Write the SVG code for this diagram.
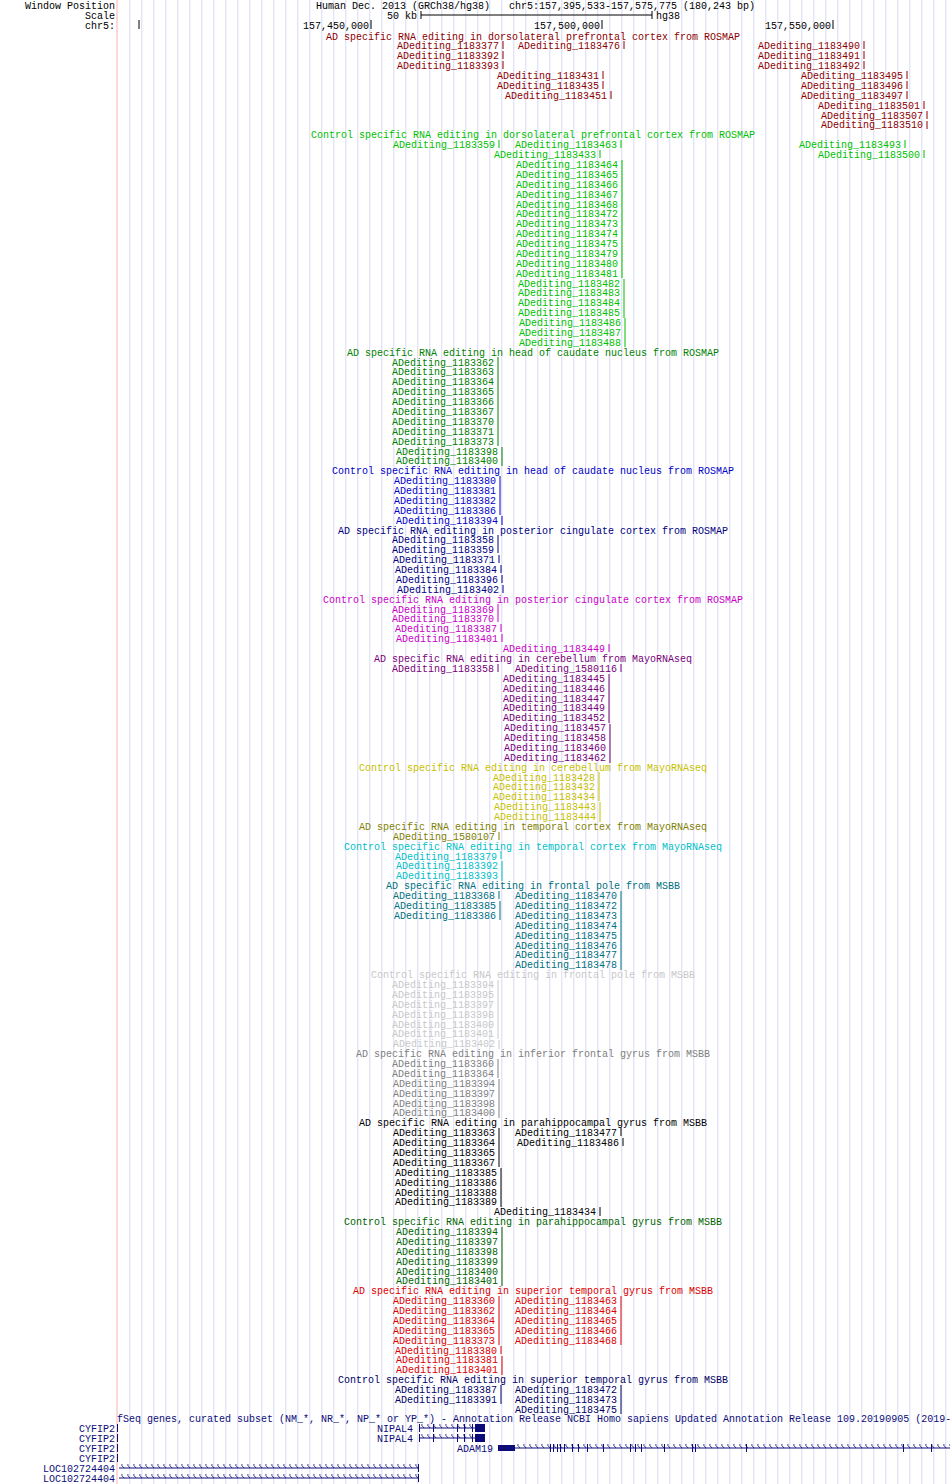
<svg xmlns="http://www.w3.org/2000/svg" width="950" height="1484" viewBox="0 0 950 1484">
<defs>
<style>
text{font-family:"Liberation Mono","DejaVu Sans Mono",monospace;font-size:10px}
.e{text-anchor:end}.m{text-anchor:middle}
.t1{fill:#8c0000}.t2{fill:#00c000}.t3{fill:#008000}.t4{fill:#0000c8}.t5{fill:#000080}.t6{fill:#c800c8}.t7{fill:#780078}.t8{fill:#c8c000}.t9{fill:#808000}.t10{fill:#00c0c8}.t11{fill:#007080}.t12{fill:#c8c8c8}.t13{fill:#808080}.t14{fill:#000}.t15{fill:#006400}.t16{fill:#dc0000}.t17{fill:#000064}.g{fill:#0c0c78}
</style>
<pattern id="grid" x="129.3" y="0" width="12" height="10" patternUnits="userSpaceOnUse"><rect x="0" y="0" width="1" height="10" fill="#d9d9f5"/></pattern>
<pattern id="chev" x="0" y="0" width="6" height="10" patternUnits="userSpaceOnUse"><path d="M4,2 L1.5,5 L4,8" fill="none" stroke="#0c0c78" stroke-width="0.8"/></pattern>
</defs>
<rect width="950" height="1484" fill="#fff"/>
<rect x="128" y="0" width="822" height="1484" fill="url(#grid)"/>
<line x1="117" y1="0" x2="117" y2="1484" stroke="#ffb0b0" stroke-width="1"/>
<g id="header">
<text class="e" x="115" y="9">Window Position</text>
<text x="316" y="9">Human Dec. 2013 (GRCh38/hg38)</text>
<text x="509" y="9">chr5:157,395,533-157,575,775 (180,243 bp)</text>
<text class="e" x="115" y="19">Scale</text>
<text class="e" x="417" y="19">50 kb</text>
<path d="M421,11V19M421,15H652M652,11V19" stroke="#000" fill="none"/>
<text x="656" y="19">hg38</text>
<text class="e" x="115" y="29">chr5:</text>
<path d="M139,20V29M371,20V29M602,20V29M833,20V29" stroke="#000"/>
<text class="e" x="369" y="29">157,450,000</text>
<text class="e" x="600" y="29">157,500,000</text>
<text class="e" x="831" y="29">157,550,000</text>
</g>
<g id="track-ad-dlpfc" class="t1">
<text class="m" x="533" y="39.5">AD specific RNA editing in dorsolateral prefrontal cortex from ROSMAP</text>
<text class="e" x="499" y="49.4">ADediting_1183377</text><text class="e" x="620" y="49.4">ADediting_1183476</text><text class="e" x="860" y="49.4">ADediting_1183490</text>
<text class="e" x="499" y="59.3">ADediting_1183392</text><text class="e" x="860" y="59.3">ADediting_1183491</text>
<text class="e" x="499" y="69.1">ADediting_1183393</text><text class="e" x="860" y="69.1">ADediting_1183492</text>
<text class="e" x="599" y="79">ADediting_1183431</text><text class="e" x="903" y="79">ADediting_1183495</text>
<text class="e" x="599" y="88.9">ADediting_1183435</text><text class="e" x="903" y="88.9">ADediting_1183496</text>
<text class="e" x="607" y="98.8">ADediting_1183451</text><text class="e" x="903" y="98.8">ADediting_1183497</text>
<text class="e" x="920" y="108.7">ADediting_1183501</text>
<text class="e" x="923" y="118.5">ADediting_1183507</text>
<text class="e" x="923" y="128.4">ADediting_1183510</text>
<path stroke="#8c0000" d="M503,41v8M624,41v8M864,41v8M503,51v8M864,51v8M503,61v8M864,61v8M603,71v8M907,71v8M603,81v8M907,81v8M611,91v8M907,91v8M924,101v8M927,111v8M927,121v8"/>
</g>
<g id="track-ctl-dlpfc" class="t2">
<text class="m" x="533" y="138.3">Control specific RNA editing in dorsolateral prefrontal cortex from ROSMAP</text>
<text class="e" x="495" y="148.2">ADediting_1183359</text><text class="e" x="617" y="148.2">ADediting_1183463</text><text class="e" x="901" y="148.2">ADediting_1183493</text>
<text class="e" x="596" y="158.1">ADediting_1183433</text><text class="e" x="920" y="158.1">ADediting_1183500</text>
<text class="e" x="618" y="167.9">ADediting_1183464</text>
<text class="e" x="618" y="177.8">ADediting_1183465</text>
<text class="e" x="618" y="187.7">ADediting_1183466</text>
<text class="e" x="618" y="197.6">ADediting_1183467</text>
<text class="e" x="618" y="207.5">ADediting_1183468</text>
<text class="e" x="618" y="217.3">ADediting_1183472</text>
<text class="e" x="618" y="227.2">ADediting_1183473</text>
<text class="e" x="618" y="237.1">ADediting_1183474</text>
<text class="e" x="618" y="247">ADediting_1183475</text>
<text class="e" x="618" y="256.9">ADediting_1183479</text>
<text class="e" x="618" y="266.7">ADediting_1183480</text>
<text class="e" x="618" y="276.6">ADediting_1183481</text>
<text class="e" x="620" y="286.5">ADediting_1183482</text>
<text class="e" x="620" y="296.4">ADediting_1183483</text>
<text class="e" x="620" y="306.3">ADediting_1183484</text>
<text class="e" x="620" y="316.1">ADediting_1183485</text>
<text class="e" x="621" y="326">ADediting_1183486</text>
<text class="e" x="621" y="335.9">ADediting_1183487</text>
<text class="e" x="621" y="345.8">ADediting_1183488</text>
<path stroke="#00c000" d="M499,140v8M621,140v8M905,140v8M600,150v8M924,150v8M622,160v118M624,279v39M625,318v29"/>
</g>
<g id="track-ad-caudate" class="t3">
<text class="m" x="533" y="355.7">AD specific RNA editing in head of caudate nucleus from ROSMAP</text>
<text class="e" x="494" y="365.5">ADediting_1183362</text>
<text class="e" x="494" y="375.4">ADediting_1183363</text>
<text class="e" x="494" y="385.3">ADediting_1183364</text>
<text class="e" x="494" y="395.2">ADediting_1183365</text>
<text class="e" x="494" y="405.1">ADediting_1183366</text>
<text class="e" x="494" y="414.9">ADediting_1183367</text>
<text class="e" x="494" y="424.8">ADediting_1183370</text>
<text class="e" x="494" y="434.7">ADediting_1183371</text>
<text class="e" x="494" y="444.6">ADediting_1183373</text>
<text class="e" x="498" y="454.5">ADediting_1183398</text>
<text class="e" x="498" y="464.3">ADediting_1183400</text>
<path stroke="#008000" d="M498,357v89M502,447v19"/>
</g>
<g id="track-ctl-caudate" class="t4">
<text class="m" x="533" y="474.2">Control specific RNA editing in head of caudate nucleus from ROSMAP</text>
<text class="e" x="496" y="484.1">ADediting_1183380</text>
<text class="e" x="496" y="494">ADediting_1183381</text>
<text class="e" x="496" y="503.9">ADediting_1183382</text>
<text class="e" x="496" y="513.7">ADediting_1183386</text>
<text class="e" x="498" y="523.6">ADediting_1183394</text>
<path stroke="#0000c8" d="M500,476v39M502,516v9"/>
</g>
<g id="track-ad-pcc" class="t5">
<text class="m" x="533" y="533.5">AD specific RNA editing in posterior cingulate cortex from ROSMAP</text>
<text class="e" x="494" y="543.4">ADediting_1183358</text>
<text class="e" x="494" y="553.3">ADediting_1183359</text>
<text class="e" x="495" y="563.1">ADediting_1183371</text>
<text class="e" x="497" y="573">ADediting_1183384</text>
<text class="e" x="498" y="582.9">ADediting_1183396</text>
<text class="e" x="499" y="592.8">ADediting_1183402</text>
<path stroke="#000080" d="M498,535v18M499,555v8M501,565v8M502,575v8M503,585v8"/>
</g>
<g id="track-ctl-pcc" class="t6">
<text class="m" x="533" y="602.7">Control specific RNA editing in posterior cingulate cortex from ROSMAP</text>
<text class="e" x="494" y="612.5">ADediting_1183369</text>
<text class="e" x="494" y="622.4">ADediting_1183370</text>
<text class="e" x="497" y="632.3">ADediting_1183387</text>
<text class="e" x="498" y="642.2">ADediting_1183401</text>
<text class="e" x="605" y="652.1">ADediting_1183449</text>
<path stroke="#c800c8" d="M498,604v18M501,624v8M502,634v8M609,644v8"/>
</g>
<g id="track-ad-cereb" class="t7">
<text class="m" x="533" y="661.9">AD specific RNA editing in cerebellum from MayoRNAseq</text>
<text class="e" x="494" y="671.8">ADediting_1183358</text><text class="e" x="617" y="671.8">ADediting_1580116</text>
<text class="e" x="605" y="681.7">ADediting_1183445</text>
<text class="e" x="605" y="691.6">ADediting_1183446</text>
<text class="e" x="605" y="701.5">ADediting_1183447</text>
<text class="e" x="605" y="711.3">ADediting_1183449</text>
<text class="e" x="605" y="721.2">ADediting_1183452</text>
<text class="e" x="606" y="731.1">ADediting_1183457</text>
<text class="e" x="606" y="741">ADediting_1183458</text>
<text class="e" x="606" y="750.9">ADediting_1183460</text>
<text class="e" x="606" y="760.7">ADediting_1183462</text>
<path stroke="#780078" d="M498,664v8M621,664v8M609,674v49M610,724v39"/>
</g>
<g id="track-ctl-cereb" class="t8">
<text class="m" x="533" y="770.6">Control specific RNA editing in cerebellum from MayoRNAseq</text>
<text class="e" x="595" y="780.5">ADediting_1183428</text>
<text class="e" x="595" y="790.4">ADediting_1183432</text>
<text class="e" x="595" y="800.3">ADediting_1183434</text>
<text class="e" x="596" y="810.1">ADediting_1183443</text>
<text class="e" x="596" y="820">ADediting_1183444</text>
<path stroke="#c8c000" d="M599,772v29M600,802v20"/>
</g>
<g id="track-ad-temporal" class="t9">
<text class="m" x="533" y="829.9">AD specific RNA editing in temporal cortex from MayoRNAseq</text>
<text class="e" x="495" y="839.8">ADediting_1580107</text>
<path stroke="#808000" d="M499,832v8"/>
</g>
<g id="track-ctl-temporal" class="t10">
<text class="m" x="533" y="849.7">Control specific RNA editing in temporal cortex from MayoRNAseq</text>
<text class="e" x="497" y="859.5">ADediting_1183379</text>
<text class="e" x="498" y="869.4">ADediting_1183392</text>
<text class="e" x="498" y="879.3">ADediting_1183393</text>
<path stroke="#00c0c8" d="M501,851v8M502,861v20"/>
</g>
<g id="track-ad-frontalpole" class="t11">
<text class="m" x="533" y="889.2">AD specific RNA editing in frontal pole from MSBB</text>
<text class="e" x="495" y="899.1">ADediting_1183368</text><text class="e" x="617" y="899.1">ADediting_1183470</text>
<text class="e" x="496" y="908.9">ADediting_1183385</text><text class="e" x="617" y="908.9">ADediting_1183472</text>
<text class="e" x="496" y="918.8">ADediting_1183386</text><text class="e" x="617" y="918.8">ADediting_1183473</text>
<text class="e" x="617" y="928.7">ADediting_1183474</text>
<text class="e" x="617" y="938.6">ADediting_1183475</text>
<text class="e" x="617" y="948.5">ADediting_1183476</text>
<text class="e" x="617" y="958.3">ADediting_1183477</text>
<text class="e" x="617" y="968.2">ADediting_1183478</text>
<path stroke="#007080" d="M499,891v8M500,901v19M621,891v79"/>
</g>
<g id="track-ctl-frontalpole" class="t12">
<text class="m" x="533" y="978.1">Control specific RNA editing in frontal pole from MSBB</text>
<text class="e" x="494" y="988">ADediting_1183394</text>
<text class="e" x="494" y="997.9">ADediting_1183395</text>
<text class="e" x="494" y="1007.7">ADediting_1183397</text>
<text class="e" x="494" y="1017.6">ADediting_1183398</text>
<text class="e" x="494" y="1027.5">ADediting_1183400</text>
<text class="e" x="494" y="1037.4">ADediting_1183401</text>
<text class="e" x="495" y="1047.3">ADediting_1183402</text>
<path stroke="#c8c8c8" d="M498,980v59M499,1040v9"/>
</g>
<g id="track-ad-ifg" class="t13">
<text class="m" x="533" y="1057.1">AD specific RNA editing in inferior frontal gyrus from MSBB</text>
<text class="e" x="494" y="1067">ADediting_1183360</text>
<text class="e" x="494" y="1076.9">ADediting_1183364</text>
<text class="e" x="495" y="1086.8">ADediting_1183394</text>
<text class="e" x="495" y="1096.7">ADediting_1183397</text>
<text class="e" x="495" y="1106.5">ADediting_1183398</text>
<text class="e" x="495" y="1116.4">ADediting_1183400</text>
<path stroke="#808080" d="M498,1059v19M499,1079v39"/>
</g>
<g id="track-ad-phg" class="t14">
<text class="m" x="533" y="1126.3">AD specific RNA editing in parahippocampal gyrus from MSBB</text>
<text class="e" x="495" y="1136.2">ADediting_1183363</text><text class="e" x="617" y="1136.2">ADediting_1183477</text>
<text class="e" x="495" y="1146.1">ADediting_1183364</text><text class="e" x="619" y="1146.1">ADediting_1183486</text>
<text class="e" x="495" y="1155.9">ADediting_1183365</text>
<text class="e" x="495" y="1165.8">ADediting_1183367</text>
<text class="e" x="497" y="1175.7">ADediting_1183385</text>
<text class="e" x="497" y="1185.6">ADediting_1183386</text>
<text class="e" x="497" y="1195.5">ADediting_1183388</text>
<text class="e" x="497" y="1205.3">ADediting_1183389</text>
<text class="e" x="596" y="1215.2">ADediting_1183434</text>
<path stroke="#000" d="M499,1128v39M501,1168v39M621,1128v8M623,1138v8M600,1207v9"/>
</g>
<g id="track-ctl-phg" class="t15">
<text class="m" x="533" y="1225.1">Control specific RNA editing in parahippocampal gyrus from MSBB</text>
<text class="e" x="498" y="1235">ADediting_1183394</text>
<text class="e" x="498" y="1244.9">ADediting_1183397</text>
<text class="e" x="498" y="1254.7">ADediting_1183398</text>
<text class="e" x="498" y="1264.6">ADediting_1183399</text>
<text class="e" x="498" y="1274.5">ADediting_1183400</text>
<text class="e" x="498" y="1284.4">ADediting_1183401</text>
<path stroke="#006400" d="M502,1227v59"/>
</g>
<g id="track-ad-stg" class="t16">
<text class="m" x="533" y="1294.3">AD specific RNA editing in superior temporal gyrus from MSBB</text>
<text class="e" x="495" y="1304.1">ADediting_1183360</text><text class="e" x="617" y="1304.1">ADediting_1183463</text>
<text class="e" x="495" y="1314">ADediting_1183362</text><text class="e" x="617" y="1314">ADediting_1183464</text>
<text class="e" x="495" y="1323.9">ADediting_1183364</text><text class="e" x="617" y="1323.9">ADediting_1183465</text>
<text class="e" x="495" y="1333.8">ADediting_1183365</text><text class="e" x="617" y="1333.8">ADediting_1183466</text>
<text class="e" x="495" y="1343.7">ADediting_1183373</text><text class="e" x="617" y="1343.7">ADediting_1183468</text>
<text class="e" x="497" y="1353.5">ADediting_1183380</text>
<text class="e" x="498" y="1363.4">ADediting_1183381</text>
<text class="e" x="498" y="1373.3">ADediting_1183401</text>
<path stroke="#dc0000" d="M499,1296v49M501,1346v8M502,1356v19M621,1296v49"/>
</g>
<g id="track-ctl-stg" class="t17">
<text class="m" x="533" y="1383.2">Control specific RNA editing in superior temporal gyrus from MSBB</text>
<text class="e" x="497" y="1393.1">ADediting_1183387</text><text class="e" x="617" y="1393.1">ADediting_1183472</text>
<text class="e" x="497" y="1402.9">ADediting_1183391</text><text class="e" x="617" y="1402.9">ADediting_1183473</text>
<text class="e" x="617" y="1412.8">ADediting_1183475</text>
<path stroke="#000064" d="M501,1385v19M621,1385v29"/>
</g>
<g id="track-genes" class="g">
<text x="117" y="1422.2">fSeq genes, curated subset (NM_*, NR_*, NP_* or YP_*) - Annotation Release NCBI Homo sapiens Updated Annotation Release 109.20190905 (2019-</text>
<text class="e" x="115" y="1432.1">CYFIP2</text><text class="e" x="115" y="1442">CYFIP2</text><text class="e" x="115" y="1451.8">CYFIP2</text><text class="e" x="115" y="1461.7">CYFIP2</text>
<text class="e" x="115" y="1471.6">LOC102724404</text><text class="e" x="115" y="1481.5">LOC102724404</text>
<path stroke="#0c0c78" d="M117.5,1424v8M117.5,1434v8M117.5,1444v8M117.5,1454v8"/>
<text class="e" x="413" y="1432.1">NIPAL4</text><text class="e" x="413" y="1442">NIPAL4</text>
<text class="e" x="493" y="1451.8">ADAM19</text>
<rect x="419" y="1424" width="56" height="8" fill="url(#chev)"/>
<rect x="419" y="1434" width="56" height="8" fill="url(#chev)"/>
<rect x="515" y="1444" width="435" height="8" fill="url(#chev)"/>
<rect x="119" y="1464" width="300" height="8" fill="url(#chev)"/>
<rect x="119" y="1474" width="300" height="8" fill="url(#chev)"/>
<path stroke="#0c0c78" fill="none" d="M419,1428H475M419,1438H475M515,1448H950M119,1468H419M119,1478H419
M419.5,1424v8M433.5,1424v8M457.5,1424v8M464.5,1424v8M472.5,1424v8
M419.5,1434v8M433.5,1434v8M457.5,1434v8M464.5,1434v8M472.5,1434v8
M550.5,1444v8M553.5,1444v8M557.5,1444v8M560.5,1444v8M564.5,1444v8M572.5,1444v8M578.5,1444v8M587.5,1444v8M603.5,1444v8M630.5,1444v8M635.5,1444v8M641.5,1444v8M664.5,1444v8M692.5,1444v8M695.5,1444v8M746.5,1444v8M903.5,1444v8M931.5,1444v8
M418.5,1464v8M418.5,1474v8"/>
<rect x="475" y="1424" width="10" height="8"/>
<rect x="475" y="1434" width="10" height="8"/>
<rect x="498" y="1445" width="17" height="6"/>
</g>
</svg>
